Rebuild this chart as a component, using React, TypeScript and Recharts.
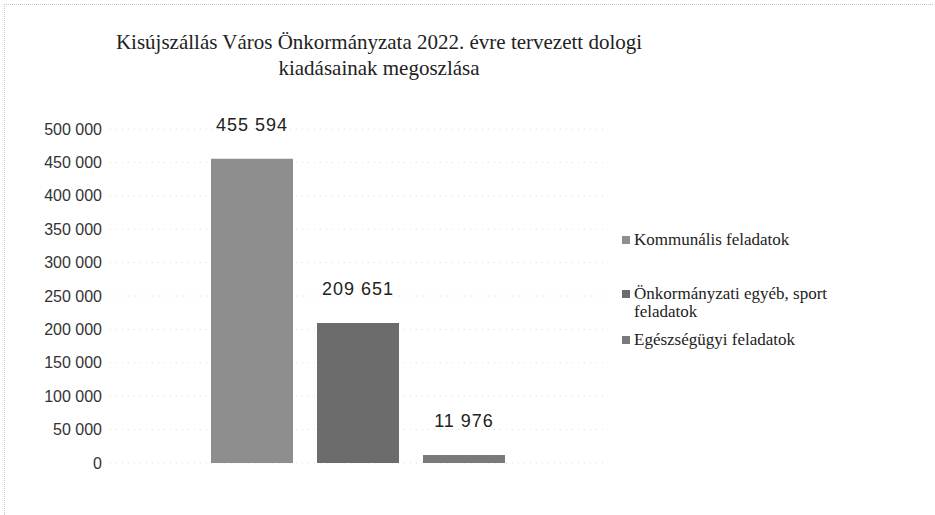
import { BarChart, Bar, XAxis, YAxis, CartesianGrid, LabelList } from 'recharts';

const categories = ['Dologi kiadások'];
const seriesNames = ['Kommunális feladatok', 'Önkormányzati egyéb, sport feladatok', 'Egészségügyi feladatok'];
const seriesValues = [455594, 209651, 11976];
const yTicks = [0, 50000, 100000, 150000, 200000, 250000, 300000, 350000, 400000, 450000, 500000];

const seriesColors = ['#8e8e8e', '#6c6c6c', '#7a7a7a'];
const serif = '"Liberation Serif", "Times New Roman", Times, "DejaVu Serif", serif';
const sans = '"Liberation Sans", Arial, sans-serif';

const fmt = (v: any) => {
  const n = Number(v);
  return n.toString().replace(/\B(?=(\d{3})+(?!\d))/g, ' ');
};

const data = categories.map(c => {
  const row: any = { name: c };
  seriesNames.forEach((s, i) => { row['s' + i] = seriesValues[i]; });
  return row;
});

function LegendBox() {
  const gaps = [36, 10, 0];
  return (
    <div style={{ position: 'absolute', left: 622, top: 231, fontFamily: serif, fontSize: 17, color: '#222', lineHeight: '18px' }}>
      {seriesNames.map((s, i) => (
        <div key={s} style={{ display: 'flex', alignItems: 'flex-start', marginBottom: gaps[i], width: 290 }}>
          <div style={{ width: 8, height: 8, background: seriesColors[i], marginTop: 5, marginRight: 4, flexShrink: 0 }} />
          <span style={{ width: 250 }}>{s}</span>
        </div>
      ))}
    </div>
  );
}

export default function App() {
  return (
    <div style={{ position: 'absolute', left: 0, top: 0, width: 935, height: 515, background: '#fff', overflow: 'hidden' }}>
      <div style={{ position: 'absolute', left: 4, top: 4, width: 928, height: 520, borderTop: '1px dotted #c4c4c4', borderLeft: '1px dotted #c4c4c4' }} />
      <div style={{ position: 'absolute', left: 0, top: 29, width: 758, textAlign: 'center', fontFamily: serif, fontSize: 21, lineHeight: '26px', color: '#222' }}>
        Kisújszállás Város Önkormányzata 2022. évre tervezett dologi<br />kiadásainak megoszlása
      </div>
      <div style={{ position: 'absolute', left: 0, top: 0 }}>
        <BarChart
          width={935}
          height={515}
          data={data}
          margin={{ top: 129, right: 330, bottom: 52, left: 0 }}
          barSize={82}
          barGap={24}
        >
          <CartesianGrid vertical={false} stroke="#dedede" strokeDasharray="1 5" />
          <XAxis dataKey="name" hide />
          <YAxis
            width={110}
            domain={[0, 500000]}
            ticks={yTicks}
            axisLine={false}
            tickLine={false}
            tickFormatter={fmt}
            tick={{ fill: '#333', fontSize: 16, fontFamily: sans }}
          />
          {seriesNames.map((s, i) => (
            <Bar key={s} dataKey={'s' + i} name={s} fill={seriesColors[i]} isAnimationActive={false}>
              <LabelList
                dataKey={'s' + i}
                position="top"
                offset={28}
                formatter={fmt}
                style={{ fill: '#222', fontSize: 18, letterSpacing: 1, fontFamily: sans }}
              />
            </Bar>
          ))}
        </BarChart>
      </div>
      <LegendBox />
    </div>
  );
}
